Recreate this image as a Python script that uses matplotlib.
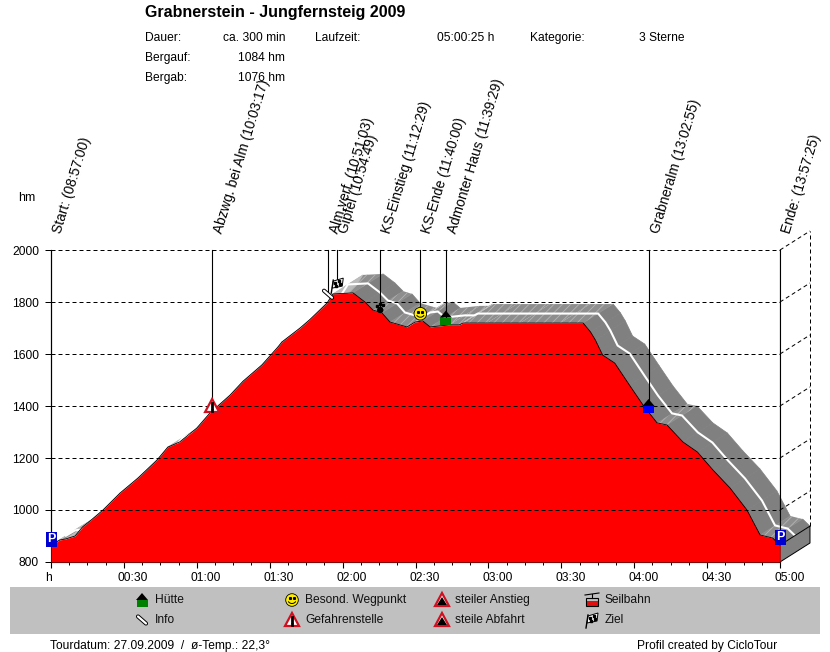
import numpy as np
import matplotlib
matplotlib.use("Agg")
import matplotlib.pyplot as plt
from matplotlib.collections import PolyCollection
from matplotlib.patches import Rectangle, Circle, Polygon, Arc

plt.rcParams['font.family'] = ['Liberation Sans', 'DejaVu Sans']
plt.rcParams['hatch.linewidth'] = 0.6

# elevation profile, minutes since start / hm
profile_min = [0, 3.7, 5.8, 9.9, 13, 17, 21.4, 28.4, 35.8, 43.6, 48.1, 53, 60, 65.4,
               73.7, 79, 86.8, 93.4, 95, 102.5, 106.6, 113.6, 116, 124.3, 129.2, 132.5,
               136.2, 139.5, 146.5, 149.8, 153, 156, 164, 168, 169.5, 179.4, 193, 209.5,
               219, 222, 224, 227, 232, 238, 243.6, 249.4, 253.5, 260, 266, 272.4,
               279.4, 286.4, 291.8, 297, 300]
profile_hm = [865, 885, 888, 900, 935, 965, 1000, 1065, 1123, 1192, 1242, 1262, 1315, 1373,
              1442, 1495, 1558, 1627, 1646, 1700, 1733, 1796, 1831, 1835, 1800, 1769,
              1758, 1723, 1704, 1723, 1727, 1704, 1712, 1712, 1719, 1719, 1719, 1719,
              1719, 1685, 1654, 1596, 1565, 1481, 1404, 1335, 1327, 1262, 1223, 1154,
              1085, 1000, 904, 892, 865]

# events along the tour
event_labels = ["Start: (08:57:00)", "Abzwg. bei Alm (10:03:17)", "Alm.verf. (10:51:03)",
                "Gipfel (10:54:49)", "KS-Einstieg (11:12:29)", "KS-Ende (11:40:00)",
                "Admonter Haus (11:39:29)", "Grabneralm (13:02:55)", "Ende: (13:57:25)"]
event_min = [0, 66.3, 114.0, 117.8, 135.5, 152, 162.5, 245.9, 300]
event_hm = [888, 1400, 1830, 1865, 1777, 1755, 1740, 1400, 896]
event_icons = ["park", "danger", "info", "flag", "paw", "smile", "hut", "bluehut", "park"]

y_ticks = [800, 1000, 1200, 1400, 1600, 1800, 2000]
x_ticks = [0, 30, 60, 90, 120, 150, 180, 210, 240, 270, 300]
x_tick_labels = ["h", "00:30", "01:00", "01:30", "02:00", "02:30", "03:00", "03:30",
                 "04:00", "04:30", "05:00"]

legend_names = ["Hütte", "Info", "Besond. Wegpunkt", "Gefahrenstelle",
                "steiler Anstieg", "steile Abfahrt", "Seilbahn", "Ziel"]
legend_icons = ["hut", "info", "smile", "danger", "steep", "steep", "lift", "flag"]

W, H = 830, 652
DX = 30 / 2.43   # depth of the 3d band in minutes
DY = 19 / 0.26   # and in hm

fig = plt.figure(figsize=(W / 100, H / 100), dpi=100)
ax = fig.add_axes([51 / W, 1 - 562 / H, 729 / W, 312 / H])
ax.set_xlim(0, 300)
ax.set_ylim(800, 2000)
ax.patch.set_alpha(0)

t = np.array(profile_min)
h = np.array(profile_hm)

# 3d band, one quad per profile segment
quads_dark, quads_flat, quads_up = [], [], []
for i in range(len(t) - 1):
    quad = [(t[i], h[i]), (t[i + 1], h[i + 1]), (t[i + 1] + DX, h[i + 1] + DY), (t[i] + DX, h[i] + DY)]
    slope = (h[i + 1] - h[i]) / (t[i + 1] - t[i])
    if slope > 2.5:
        quads_up.append(quad)
    elif slope > -6.2:
        quads_flat.append(quad)
    else:
        quads_dark.append(quad)
ax.add_collection(PolyCollection(quads_dark, facecolors='#808080', edgecolors='#808080', linewidths=0.5, clip_on=False, zorder=1))
ax.add_collection(PolyCollection(quads_flat, facecolors='#8e8e8e', edgecolors='#b4b4b4', linewidths=0, hatch='////', clip_on=False, zorder=1))
ax.add_collection(PolyCollection(quads_up, facecolors='#bcbcbc', edgecolors='#bcbcbc', linewidths=0.5, clip_on=False, zorder=1))
ax.plot(t + DX / 2, h + DY / 2, color='white', lw=1.5, clip_on=False, zorder=2)

# end wall of the band
ax.add_patch(Polygon([(300, 800), (300 + DX, 800 + DY), (300 + DX, h[-1] + DY), (300, h[-1])],
                     facecolor='#808080', edgecolor='black', lw=0.7, clip_on=False, zorder=2))

ax.fill_between(t, h, 800, color='#ff0000', lw=0, zorder=3)
ax.plot(t, h, color='black', lw=0.6, zorder=3)

# grid and back wall
dash = (0, (4, 3))
for y in y_ticks[1:]:
    ax.plot([0, 300], [y, y], color='black', lw=0.72, ls=dash, zorder=4)
for y in y_ticks[1:]:
    ax.plot([300, 300 + DX], [y, y + DY], color='black', lw=0.72, ls=dash, clip_on=False, zorder=4)
ax.plot([300 + DX, 300 + DX], [h[-1] + DY, 2000 + DY], color='black', lw=0.72, ls=dash, clip_on=False, zorder=4)
ax.plot([300, 300], [800, 2000], color='black', lw=0.8, zorder=4)

for s in ['top', 'right']:
    ax.spines[s].set_visible(False)
ax.set_yticks(y_ticks)
ax.set_xticks(x_ticks)
ax.set_xticks(np.arange(0, 300, 7.5), minor=True)
ax.set_xticklabels([])
ax.tick_params(axis='y', length=4.3, width=0.72, labelsize=8.64, pad=4.3)
ax.tick_params(axis='x', which='major', length=4.3, width=0.8)
ax.tick_params(axis='x', which='minor', length=2.2, width=0.72)
for tx, lbl in zip(x_ticks, x_tick_labels):
    ax.annotate(lbl, (tx, 800), xytext=(-6, -10), textcoords='offset pixels',
                ha='left', va='top', fontsize=8.64, annotation_clip=False)

# event lines and slanted labels
for tx, hx, lbl in zip(event_min, event_hm, event_labels):
    ax.plot([tx, tx], [hx, 2000], color='black', lw=0.8, clip_on=False, zorder=4)
    ax.annotate(lbl, (tx, 2000), xytext=(13, 15), textcoords='offset pixels', rotation=73,
                rotation_mode='anchor', ha='left', va='bottom', fontsize=9.9, annotation_clip=False)

# overlay in pixel coordinates for icons, legend bar and header
ov = fig.add_axes([0, 0, 1, 1], zorder=5)
ov.set_xlim(0, W)
ov.set_ylim(H, 0)
ov.axis('off')
ov.patch.set_alpha(0)


def draw_icon(name, x, y):
    if name == "hut" or name == "bluehut":
        col = '#008000' if name == "hut" else '#0000ff'
        ov.add_patch(Polygon([(x - 6, y), (x, y - 7), (x + 6, y)], color='black', lw=0))
        ov.add_patch(Rectangle((x - 5.5, y), 11, 7, color=col, lw=0))
    elif name == "smile":
        ov.add_patch(Circle((x, y), 6.3, facecolor='#ffee00', edgecolor='black', lw=0.6))
        ov.plot([x - 2, x + 2], [y - 2, y - 2], 's', color='black', ms=1.2)
        ov.add_patch(Arc((x, y), 8, 7, theta1=20, theta2=160, color='black', lw=0.7))
    elif name == "danger" or name == "steep":
        ov.add_patch(Polygon([(x - 7, y + 6), (x, y - 7), (x + 7, y + 6)], closed=True,
                             facecolor='white', edgecolor='#d01020', lw=1.6))
        if name == "danger":
            ov.plot([x, x], [y - 3, y + 2], color='black', lw=2)
            ov.plot([x, x], [y + 3.5, y + 5], color='black', lw=2)
        else:
            ov.add_patch(Polygon([(x - 5, y + 5), (x, y - 3), (x + 5, y + 5)], color='black', lw=0))
    elif name == "park":
        ov.add_patch(Rectangle((x - 5.5, y - 7.5), 11, 15, color='#0000d0', lw=0))
        ov.text(x, y, "P", color='white', fontsize=9, fontweight='bold', ha='center', va='center')
    elif name == "info":
        ov.plot([x - 4, x + 4], [y - 3.5, y + 3.5], color='black', lw=3, solid_capstyle='round')
        ov.plot([x - 4, x + 4], [y - 3.5, y + 3.5], color='white', lw=1.6, solid_capstyle='round')
    elif name == "flag":
        ov.plot([x - 4, x - 6], [y - 5, y + 8], color='black', lw=1)
        ov.add_patch(Polygon([(x - 4, y - 4), (x + 6, y - 7), (x + 5, y + 1), (x - 5, y + 3)],
                             facecolor='white', edgecolor='black', lw=0.7))
        ov.plot([x - 2, x + 2, x - 1, x + 3], [y - 2, y - 4, y + 1, y - 1], 's', color='black', ms=1.8)
    elif name == "paw":
        ov.add_patch(Circle((x, y + 2), 3.2, color='black', lw=0))
        ov.plot([x - 3.5, x - 0.5, x + 3], [y - 2, y - 4, y - 3], 's', color='black', ms=2)
    elif name == "lift":
        ov.plot([x - 7, x + 7], [y - 5, y - 7], color='black', lw=0.8)
        ov.plot([x, x], [y - 6, y - 2], color='black', lw=0.8)
        ov.add_patch(Rectangle((x - 6, y + 0.5), 12, 5.5, color='#e01010', lw=0))
        ov.add_patch(Rectangle((x - 6, y - 2), 12, 8, facecolor='none', edgecolor='black', lw=0.8))


for tx, hx, name in zip(event_min, event_hm, event_icons):
    px, py = ax.transData.transform((tx, hx))
    draw_icon(name, px, H - py)

# legend bar
ov.add_patch(Rectangle((10, 587), 810, 47, color='#c0c0c0', lw=0, zorder=0))
legend_x = [142, 142, 292, 292, 442, 442, 592, 592]
legend_y = [600, 620, 600, 620, 600, 620, 600, 620]
for lx, ly, name, icon in zip(legend_x, legend_y, legend_names, legend_icons):
    draw_icon(icon, lx, ly)
    ov.text(lx + 13, ly, name, fontsize=8.64, va='center', color='#111111')

# header
ov.text(145, 13, "Grabnerstein - Jungfernsteig 2009", fontsize=11.5, fontweight='bold', va='center')
ov.text(18, 198, "hm", fontsize=9, va='center')
head_rows = [38, 58, 78]
head_names = ["Dauer:", "Bergauf:", "Bergab:"]
head_vals = ["ca. 300 min", "1084 hm", "1076 hm"]
for ry, n, v in zip(head_rows, head_names, head_vals):
    ov.text(145, ry, n, fontsize=8.64, va='center')
    ov.text(285, ry, v, fontsize=8.64, va='center', ha='right')
ov.text(315, 38, "Laufzeit:", fontsize=8.64, va='center')
ov.text(437, 38, "05:00:25 h", fontsize=8.64, va='center')
ov.text(530, 38, "Kategorie:", fontsize=8.64, va='center')
ov.text(639, 38, "3 Sterne", fontsize=8.64, va='center')

# footer
ov.text(50, 646, "Tourdatum: 27.09.2009  /  ø-Temp.: 22,3°", fontsize=8.64, va='center')
ov.text(637, 646, "Profil created by CicloTour", fontsize=8.64, va='center')

fig.savefig("out.png", dpi=100)
